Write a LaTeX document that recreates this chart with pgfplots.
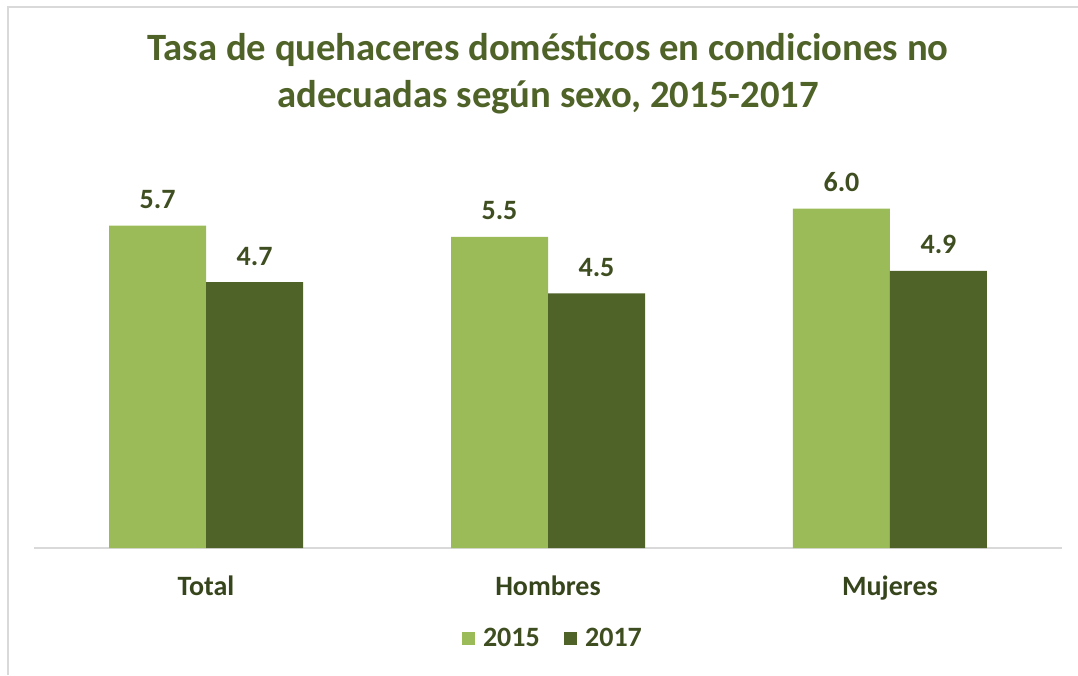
\documentclass[border=0pt]{standalone}
\usepackage{pgfplots}
\pgfplotsset{compat=1.18}
\usepackage{fontspec}
\setmainfont{Carlito}
\definecolor{lg}{HTML}{9BBB59}
\definecolor{dg}{HTML}{4F6228}
\definecolor{tc}{HTML}{4F6228}
\definecolor{bc}{HTML}{D9D9D9}
\begin{document}
\begin{tikzpicture}[x=0.75pt,y=0.75pt]
\path[use as bounding box] (0,0) rectangle (1078,675);
\draw[bc,line width=1.5pt] (7.5,0) -- (7.5,668) -- (1078,668);
\node[text=tc,font=\fontsize{29}{35}\selectfont\bfseries,align=center] at (548,601) {Tasa de quehaceres domésticos en condiciones no\\adecuadas según sexo, 2015-2017};
\begin{axis}[
  at={(25.5pt,95.25pt)}, anchor=south west,
  scale only axis, width=771pt, height=297pt,
  ymin=0, ymax=7, xmin=-0.503, xmax=2.503,
  ybar=0pt, bar width=72.75pt,
  axis y line=none, axis x line*=bottom,
  x axis line style={bc,line width=1.2pt},
  xtick=data, xticklabels={Total,Hombres,Mujeres},
  xtick style={draw=none},
  xticklabel style={font=\fontsize{21}{25}\selectfont\bfseries,text=dg!70!black,yshift=-13pt},
  /pgf/number format/assume math mode=true,
  nodes near coords,
  every node near coord/.append style={font=\fontsize{21}{25}\selectfont\bfseries,text=dg!80!black,yshift=9pt},
  nodes near coords={\pgfmathprintnumber[fixed,fixed zerofill,precision=1]{\pgfplotspointmeta}},
  legend style={at={(0.505,-0.228)},anchor=center,draw=none,legend columns=2,font=\fontsize{21}{25}\selectfont\bfseries,text=dg!80!black,/tikz/every even column/.append style={column sep=16pt},/tikz/every odd column/.append style={column sep=4pt}},
  legend image code/.code={\fill[#1,draw=none] (0pt,-5pt) rectangle (10pt,5pt);},
]
\addplot[fill=lg,draw=none] coordinates {(0,5.7) (1,5.5) (2,6.0)};
\addplot[fill=dg,draw=none] coordinates {(0,4.7) (1,4.5) (2,4.9)};
\legend{2015,2017}
\end{axis}
\end{tikzpicture}
\end{document}
